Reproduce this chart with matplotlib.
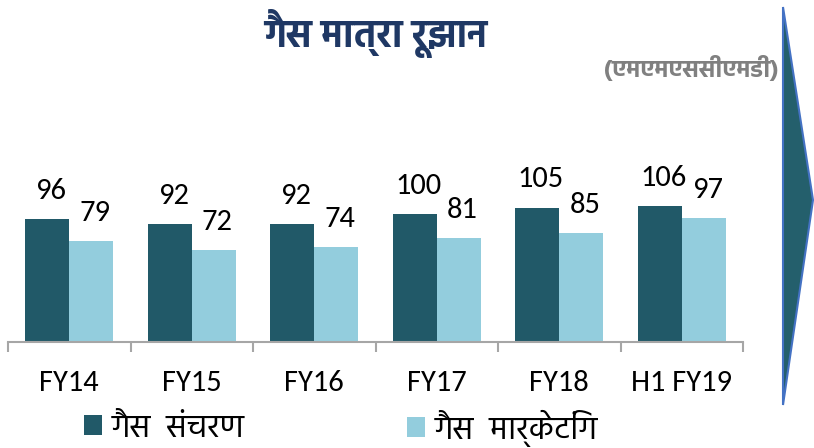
import matplotlib
matplotlib.use("Agg")
import matplotlib.pyplot as plt
import numpy as np
from matplotlib import font_manager
from matplotlib.patches import Polygon

# data
categories   = ["FY14", "FY15", "FY16", "FY17", "FY18", "H1 FY19"]
transmission = [96, 92, 92, 100, 105, 106]
marketing    = [79, 72, 74, 81, 85, 97]
series_names = ["गैस  संचरण", "गैस  मार्केटिंग"]
title_text   = "गैस मात्रा रूझान"
unit_text    = "(एमएमएससीएमडी)"

dark  = "#215968"
light = "#93CDDD"

# pick the first fonts that are really installed
names = set(f.name for f in font_manager.fontManager.ttflist)
def pick(prefs):
    return [p for p in prefs if p in names] + ["DejaVu Sans"]

hindi = pick(["Hind", "Mukta", "Noto Sans Devanagari", "FreeSans"])
latin = pick(["Carlito", "Open Sans"])
num_size = 22 if latin[0] == "Carlito" else 18

W, H = 814, 448
fig = plt.figure(figsize=(W / 100, H / 100), dpi=100)

# axes placed in pixel terms: baseline at y=342, from x=8 to x=743
ax = fig.add_axes([8 / W, (H - 342) / H, 735 / W, 192 / H])
ax.set_xlim(-0.5, 5.5)
ax.set_ylim(0, 150)

x = np.arange(len(categories))
bw = 0.36
b1 = ax.bar(x - bw / 2, transmission, bw, color=dark, label=series_names[0])
b2 = ax.bar(x + bw / 2, marketing, bw, color=light, label=series_names[1])

for bars, vals in ((b1, transmission), (b2, marketing)):
    for r, v in zip(bars, vals):
        ax.annotate(str(v), (r.get_x() + r.get_width() / 2 + 0.03, v),
                    xytext=(0, 11), textcoords="offset points",
                    ha="center", va="bottom", fontsize=num_size, family=latin)

for s in ("top", "right", "left"):
    ax.spines[s].set_visible(False)
ax.spines["bottom"].set_color("#A6A6A6")
ax.spines["bottom"].set_linewidth(1.5)
ax.set_yticks([])

ax.set_xticks(x)
ax.set_xticklabels(categories, fontsize=num_size, family=latin)
ax.tick_params(axis="x", which="major", length=0, pad=20)
ax.set_xticks(np.arange(-0.5, 6, 1), minor=True)
ax.tick_params(axis="x", which="minor", length=7.5, width=1.5, color="#A6A6A6")

fig.text(376 / W, 1 - 33 / H, title_text, ha="center", va="center",
         fontsize=27, fontweight="bold", color="#1F3864", family=hindi)
fig.text(778 / W, 1 - 68 / H, unit_text, ha="right", va="center",
         fontsize=17.5, fontweight="bold", color="#808080", family=hindi)

# two single-entry legends so each one sits where the reference has it
for handle, name, x0 in ((b1, series_names[0], 84), (b2, series_names[1], 407)):
    leg = fig.legend(handles=[handle], labels=[name], loc="center left",
                     bbox_to_anchor=(x0 / W, 1 - 428 / H), frameon=False,
                     prop={"family": hindi, "size": 23.5}, handlelength=0.55,
                     handleheight=0.55, handletextpad=0.3, borderpad=0,
                     borderaxespad=0)

# the arrow shape on the right edge
arrow = Polygon([(783 / W, 1 - 7 / H), (813 / W, 1 - 200 / H), (783 / W, 1 - 405 / H)],
                closed=True, transform=fig.transFigure, facecolor="#245F6C",
                edgecolor="#4472C4", linewidth=1.5)
fig.patches.append(arrow)

fig.savefig("out.png", dpi=100)
